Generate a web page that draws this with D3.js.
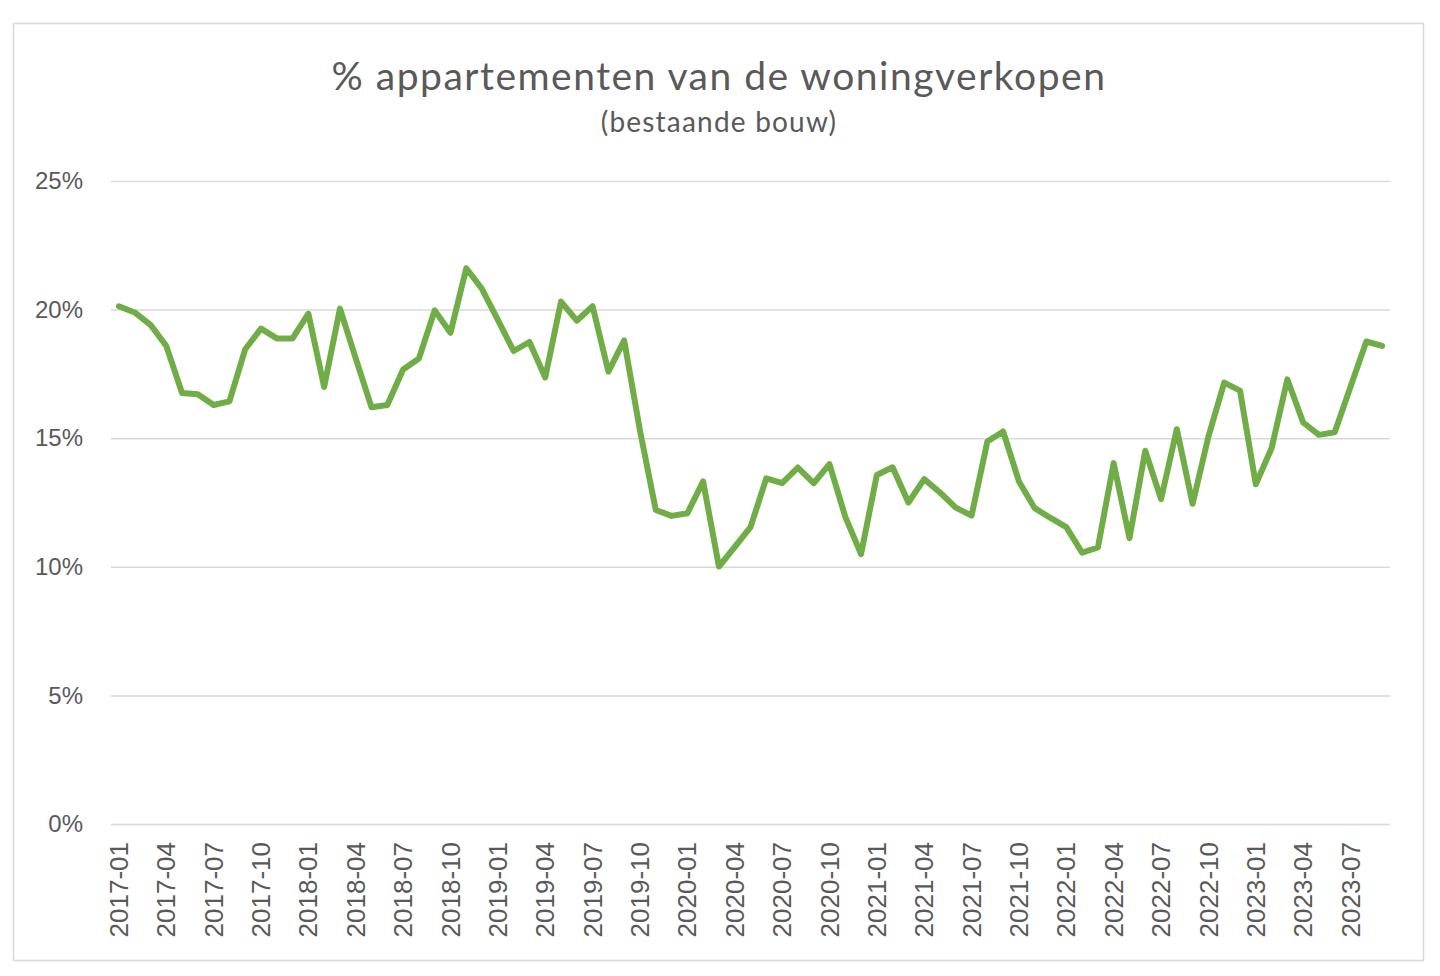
<!DOCTYPE html>
<html>
<head>
<meta charset="utf-8">
<script src="https://cdn.jsdelivr.net/npm/d3@7"></script>
<style>
  body { margin: 0; background: #fff; }
  svg { display: block; }
</style>
</head>
<body>
<svg id="chart"></svg>
<script>
// maanden 2017-01 t/m 2023-09
const months = [];
for (let y = 2017; y <= 2023; y++) {
    for (let m = 1; m <= 12; m++) {
        if (y === 2023 && m > 9) break;
        months.push(y + '-' + String(m).padStart(2, '0'));
    }
}

// % appartementen
const values = [
    20.13, 19.89, 19.41, 18.59, 16.76, 16.71, 16.29, 16.43, 18.46, 19.26, 18.88, 18.88,
    19.84, 16.99, 20.04, 18.10, 16.20, 16.29, 17.67, 18.10, 19.97, 19.10, 21.61, 20.80,
    19.60, 18.39, 18.74, 17.36, 20.31, 19.57, 20.13, 17.59, 18.80, 15.30, 12.21, 11.98,
    12.08, 13.32, 10.01, 10.77, 11.54, 13.44, 13.25, 13.86, 13.25, 13.99, 11.95, 10.49,
    13.57, 13.87, 12.50, 13.41, 12.89, 12.30, 11.99, 14.87, 15.26, 13.32, 12.28, 11.90,
    11.54, 10.55, 10.75, 14.03, 11.11, 14.51, 12.63, 15.35, 12.45, 15.06, 17.16, 16.85,
    13.21, 14.61, 17.29, 15.61, 15.13, 15.23, 17.00, 18.76, 18.59
];

const yTicks = [0, 5, 10, 15, 20, 25];
const xTickLabels = months.filter((d, i) => i % 3 === 0);

const title = '% appartementen van de woningverkopen';
const subtitle = '(bestaande bouw)';

const width = 1440;
const height = 976;

let svg = d3.select('#chart')
    .attr('width', width)
    .attr('height', height);

// kader
svg.append('rect')
    .attr('x', 13.5)
    .attr('y', 23.5)
    .attr('width', 1410)
    .attr('height', 937)
    .attr('fill', '#fff')
    .attr('stroke', '#d9d9d9')
    .attr('stroke-width', 1.5);

const x = d3.scaleBand()
    .domain(months)
    .range([111, 1390]);

const y = d3.scaleLinear()
    .domain([0, 25])
    .range([824, 181]);

const cx = d => x(d) + x.bandwidth() / 2;

// gridlijnen + y-labels
const yAxis = d3.axisLeft(y)
    .tickValues(yTicks)
    .tickSize(-(1390 - 111))
    .tickPadding(28)
    .tickFormat(d => d + '%');

const gy = svg.append('g')
    .attr('transform', 'translate(111,0)')
    .call(yAxis);

gy.select('.domain').remove();
gy.selectAll('.tick line')
    .attr('stroke', '#d9d9d9')
    .attr('stroke-width', 1.5);
gy.selectAll('.tick text')
    .attr('fill', '#595959')
    .style('font-family', '"Liberation Sans", Arial, sans-serif')
    .style('font-size', '24px');

// x-labels
const xAxis = d3.axisBottom(x)
    .tickValues(xTickLabels)
    .tickSize(0)
    .tickPadding(0);

const gx = svg.append('g')
    .attr('transform', 'translate(0,824)')
    .call(xAxis);

gx.select('.domain').remove();
gx.selectAll('.tick text')
    .attr('fill', '#595959')
    .attr('transform', 'translate(0,18) rotate(-90)')
    .attr('text-anchor', 'end')
    .attr('x', 0)
    .attr('y', 0)
    .attr('dy', '0.35em')
    .style('font-family', '"Liberation Sans", Arial, sans-serif')
    .style('font-size', '26px');

// lijn
const line = d3.line()
    .x((d, i) => cx(months[i]))
    .y(d => y(d));

svg.append('path')
    .datum(values)
    .attr('d', line)
    .attr('fill', 'none')
    .attr('stroke', '#70ad47')
    .attr('stroke-width', 6)
    .attr('stroke-linejoin', 'round')
    .attr('stroke-linecap', 'round');

// titel
svg.append('text')
    .attr('x', 719)
    .attr('y', 90)
    .attr('text-anchor', 'middle')
    .attr('fill', '#595959')
    .style('font-family', 'Lato, sans-serif')
    .style('font-size', '39px')
    .style('letter-spacing', '1.5px')
    .text(title);

svg.append('text')
    .attr('x', 719)
    .attr('y', 132)
    .attr('text-anchor', 'middle')
    .attr('fill', '#595959')
    .style('font-family', 'Lato, sans-serif')
    .style('font-size', '28px')
    .style('letter-spacing', '1.2px')
    .text(subtitle);
</script>
</body>
</html>
